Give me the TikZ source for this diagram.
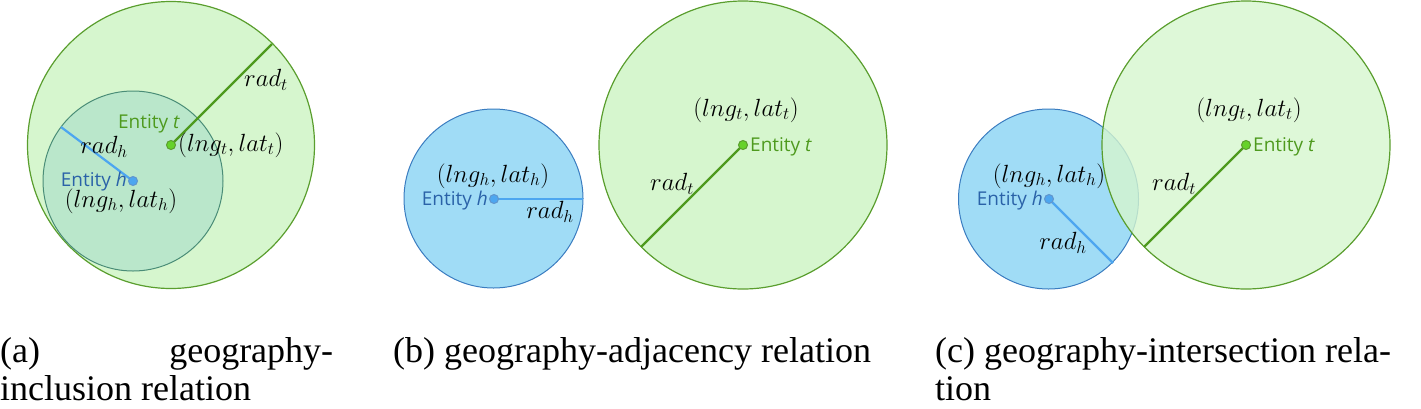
\documentclass[tikz,border=0pt]{standalone}
\usepackage{fontspec}
\setmainfont{Liberation Serif}
\newfontfamily\entfont{Open Sans}
\newfontfamily\capfont{Liberation Serif}
\definecolor{tfill}{HTML}{D6F6CE}
\definecolor{tline}{HTML}{5A9E2E}
\definecolor{tdot}{HTML}{66D22A}
\definecolor{ttext}{HTML}{4E9A1E}
\definecolor{hfill}{HTML}{A0DCF6}
\definecolor{hline}{HTML}{3A7CC0}
\definecolor{hrad}{HTML}{4DA6F0}
\definecolor{htext}{HTML}{2A62A8}
\begin{document}
\begin{tikzpicture}[x=1pt, y=-1pt,
  tcirc/.style={draw=tline, line width=1.2pt, fill=tfill},
  hcirc/.style={draw=hline, line width=1pt, fill=hfill},
  tdotn/.style={circle, draw=tline, fill=tdot, line width=1pt, inner sep=0pt, minimum size=9pt},
  hdotn/.style={circle, draw=hline!80, fill=hrad, line width=1pt, inner sep=0pt, minimum size=9pt},
  trad/.style={ttext, line width=2.2pt},
  hradl/.style={hrad, line width=2.2pt},
  math/.style={font=\fontsize{24}{27}\selectfont, inner sep=1pt},
  tent/.style={font=\entfont\fontsize{19}{22}\selectfont, text=ttext, inner sep=1pt},
  hent/.style={font=\entfont\fontsize{19}{22}\selectfont, text=htext, inner sep=1pt},
  capt/.style={font=\capfont\fontsize{36}{40}\selectfont, anchor=base west, inner sep=0pt}]

  \useasboundingbox (0,0) rectangle (1421,408);

  % (a) inclusion
  \draw[tcirc] (171,145) circle (143.5);
  \draw[draw=hline!50!tline, line width=1pt, fill=hfill!55!teal, fill opacity=0.22] (133,181) circle (90);
  \coordinate (tea) at (272,44);
  \coordinate (hea) at (61,127);
  \draw[trad] (171,145) coordinate (tca) -- (tea);
  \draw[hradl] (133,181) coordinate (hca) -- (hea);
  \node[tdotn] (ta) at (tca) {};
  \node[hdotn] (ha) at (hca) {};
  \node[math] at (266,80) {$rad_t$};
  \node[math] at (104,147) {$rad_h$};
  \node[tent] at (149,124) {Entity \textit{t}};
  \node[math, anchor=west] at (177,145) {$(lng_t,lat_t)$};
  \node[hent, anchor=east] at (128,182) {Entity \textit{h}};
  \node[math] at (121,201) {$(lng_h,lat_h)$};

  % (b) adjacency
  \draw[hcirc] (493.5,198.5) circle (89.5);
  \draw[tcirc] (743,145) circle (144);
  \coordinate (heb) at (583,199);
  \coordinate (teb) at (641,247);
  \draw[hradl] (494,199) coordinate (hcb) -- (heb);
  \draw[trad] (743,145) coordinate (tcb) -- (teb);
  \node[hdotn] (hb) at (hcb) {};
  \node[tdotn] (tb) at (tcb) {};
  \node[math] at (493,176) {$(lng_h,lat_h)$};
  \node[hent, anchor=east] at (489,201) {Entity \textit{h}};
  \node[math] at (550,212) {$rad_h$};
  \node[math] at (746,110) {$(lng_t,lat_t)$};
  \node[tent, anchor=west] at (749,147) {Entity \textit{t}};
  \node[math] at (672,184) {$rad_t$};

  % (c) intersection
  \draw[hcirc] (1048.5,199) circle (90);
  \draw[tcirc, fill opacity=0.8] (1246,145) circle (144);
  \coordinate (hec) at (1113,263);
  \coordinate (tec) at (1144,247);
  \draw[hradl] (1049,199) coordinate (hcc) -- (hec);
  \draw[trad] (1246,145) coordinate (tcc) -- (tec);
  \node[hdotn] (hc) at (hcc) {};
  \node[tdotn] (tc) at (tcc) {};
  \node[math] at (1049,176) {$(lng_h,lat_h)$};
  \node[hent, anchor=east] at (1044,201) {Entity \textit{h}};
  \node[math] at (1063,243) {$rad_h$};
  \node[math] at (1249,110) {$(lng_t,lat_t)$};
  \node[tent, anchor=west] at (1252,147) {Entity \textit{t}};
  \node[math] at (1174,184) {$rad_t$};

  % captions
  \node[capt] (capa) at (0,362) {\hbox to 333pt{(a)\hfill geography-}};
  \node[capt] (capa2) at (0,400) {inclusion relation};
  \node[capt] (capb) at (393,362) {(b)\ geography-adjacency relation};
  \node[capt] (capc) at (935,362) {(c)\ geography-intersection rela-};
  \node[capt] (capc2) at (935,400) {tion};
\end{tikzpicture}
\end{document}
